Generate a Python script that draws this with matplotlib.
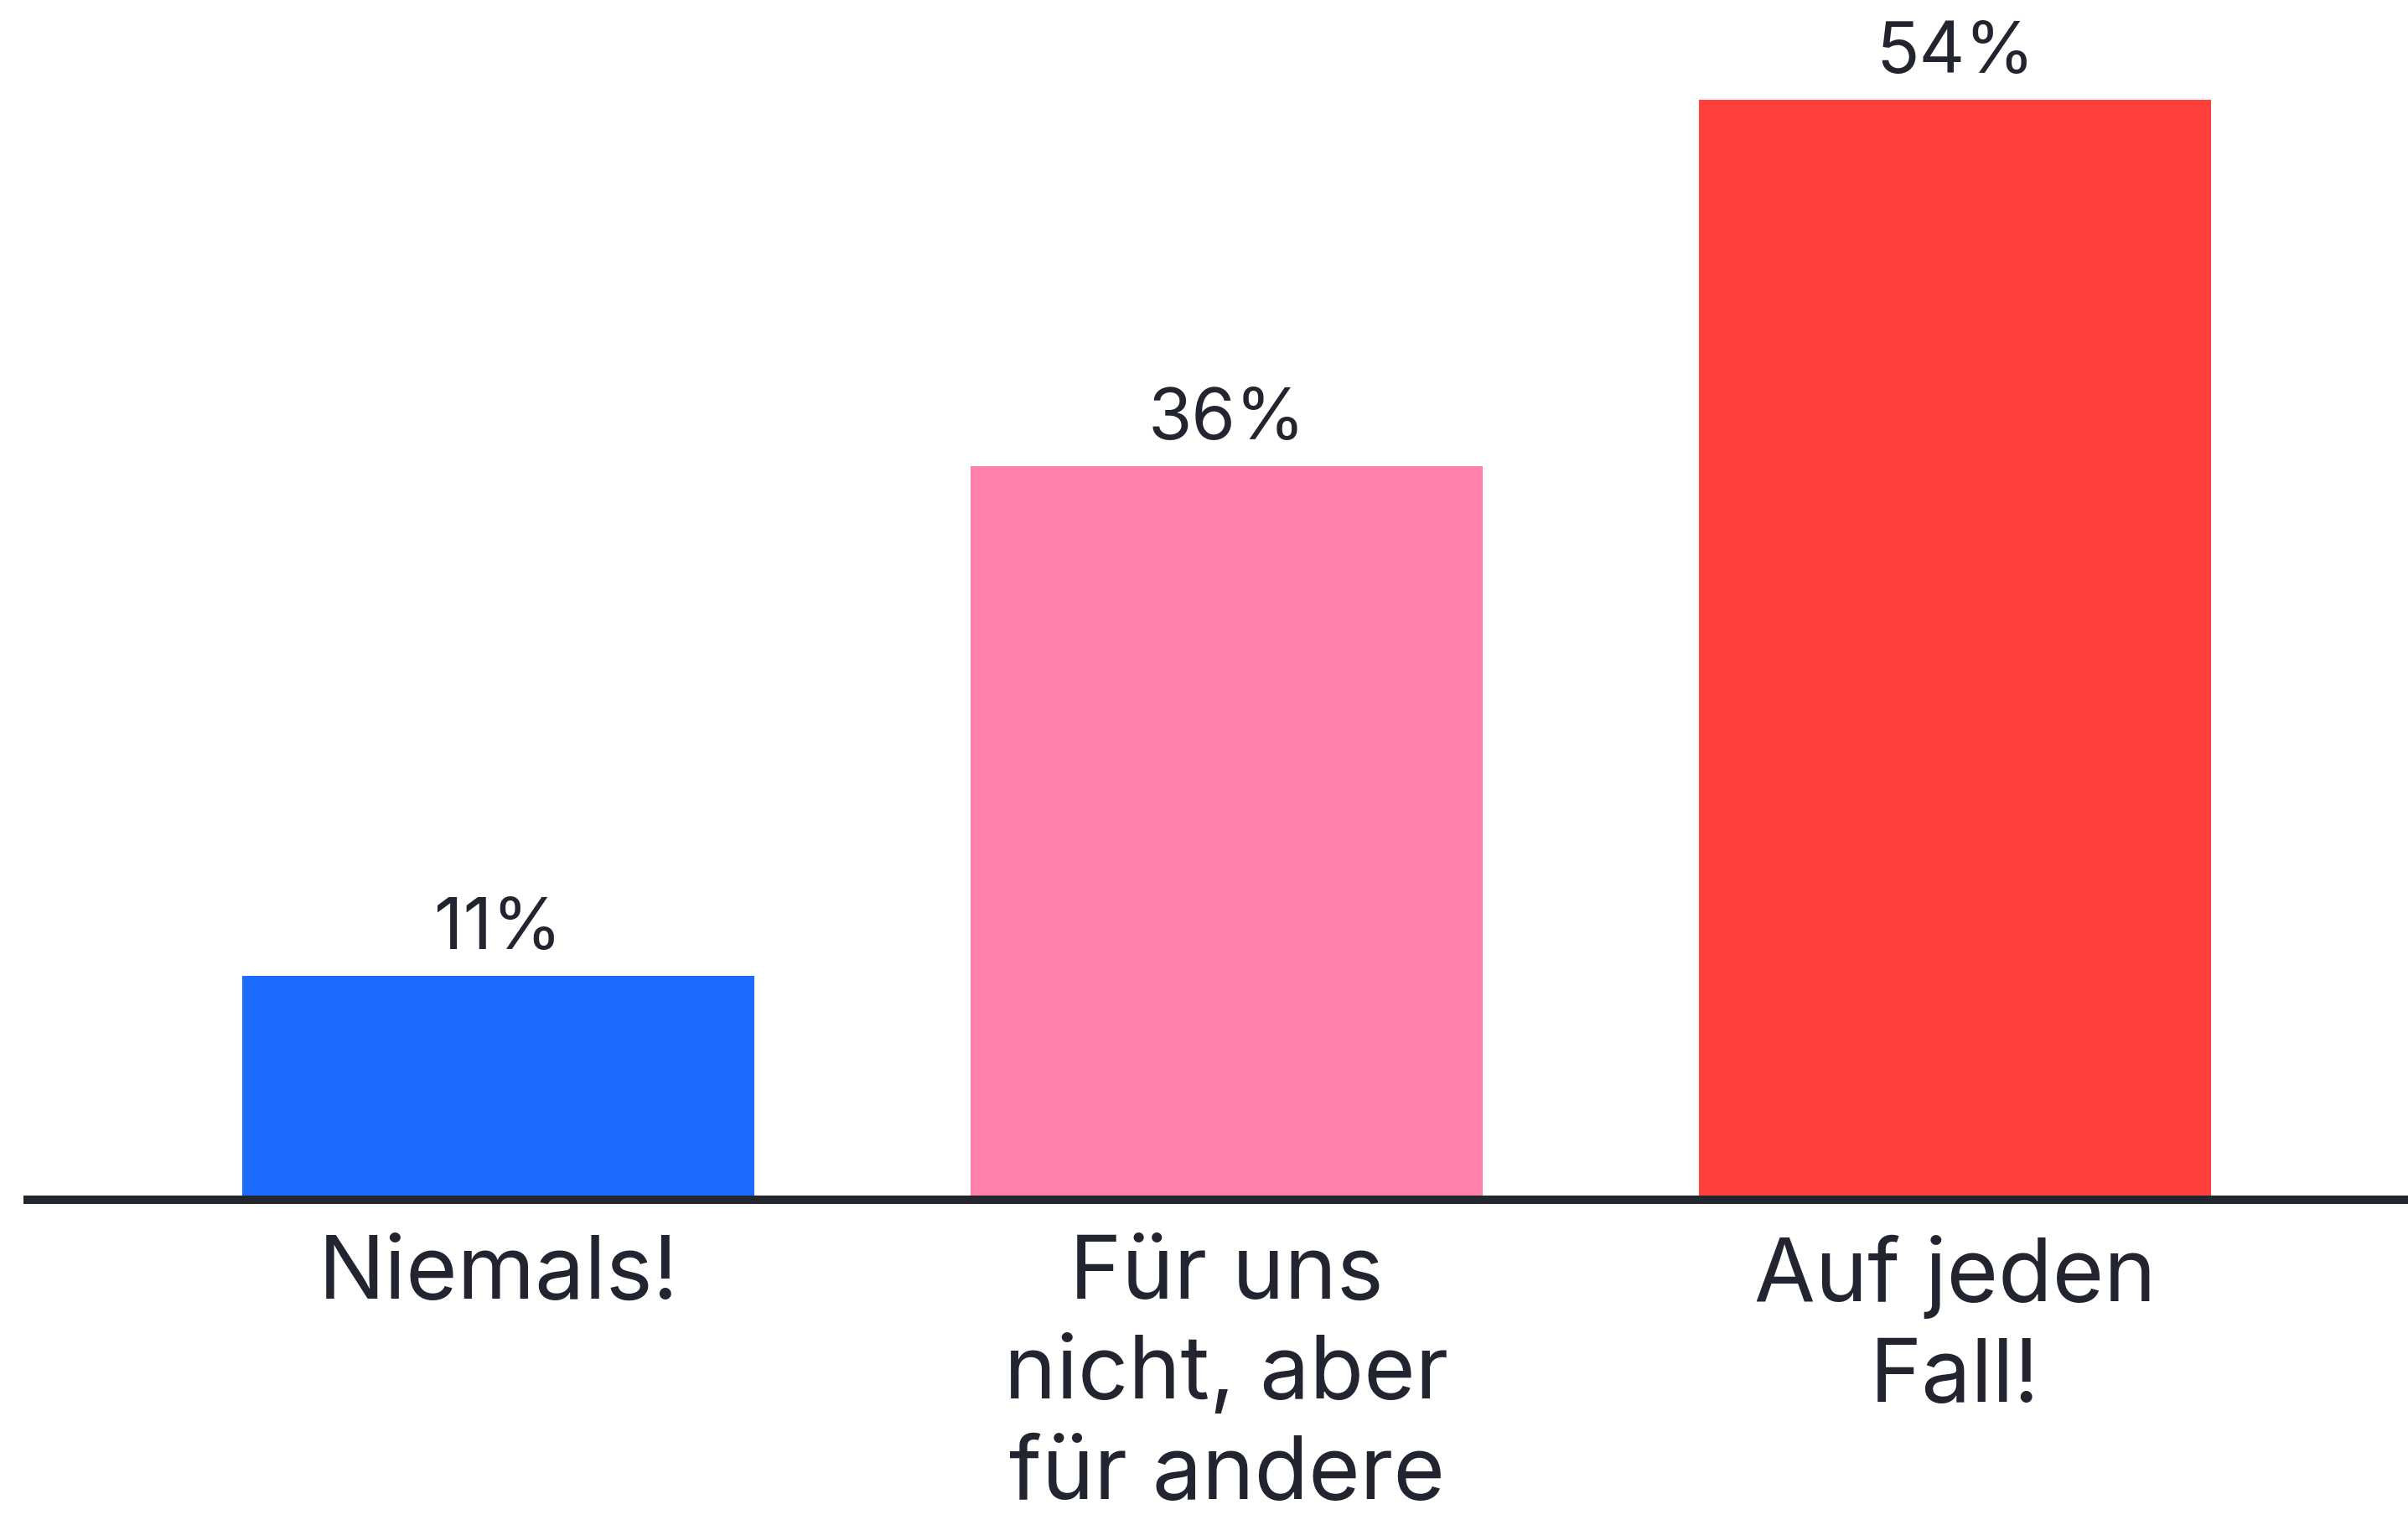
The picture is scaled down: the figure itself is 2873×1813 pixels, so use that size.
import matplotlib
matplotlib.use("Agg")
import matplotlib.pyplot as plt
import matplotlib.transforms as mtransforms

categories = ["Niemals!", "Für uns\nnicht, aber\nfür andere", "Auf jeden\nFall!"]
values = [11, 36, 54]
value_labels = ["11%", "36%", "54%"]
colors = ["#1c6bff", "#ff80aa", "#ff403d"]

TEXT = "#22252f"
plt.rcParams['font.family'] = ['Inter', 'DejaVu Sans']

W, H = 2873, 1813
fig = plt.figure(figsize=(W / 100, H / 100), dpi=100)
fig.patch.set_facecolor("white")

base_px = 1431
ax = fig.add_axes([28 / W, (H - base_px) / H, 1 - 28 / W, base_px / H])
x = list(range(len(categories)))
ax.bar(x, values, width=0.703, color=colors, zorder=1)

px_per_unit = 869.0
left = (28 - 594.5) / px_per_unit
right = (2873 - 594.5) / px_per_unit
ax.set_xlim(left, right)
ax.set_ylim(0, base_px / 24.3)

for s in ["top", "left", "right"]:
    ax.spines[s].set_visible(False)
ax.spines["bottom"].set_linewidth(7.2)
ax.spines["bottom"].set_color("#23262f")
ax.spines["bottom"].set_capstyle("butt")
ax.set_yticks([])
ax.set_xticks([])

for xi, v, lab in zip(x, values, value_labels):
    ax.annotate(lab, (xi, v), xytext=(0, 23), textcoords="offset points",
                ha="center", va="baseline", fontsize=61, color=TEXT)

trans = mtransforms.blended_transform_factory(ax.transData, ax.transAxes)
for xi, cat in zip(x, categories):
    ax.annotate(cat, (xi, 0), xycoords=trans, xytext=(0, -30), textcoords="offset points",
                ha="center", va="top", fontsize=76, color=TEXT, linespacing=1.3)

fig.savefig("out.png", dpi=100, facecolor="white")
